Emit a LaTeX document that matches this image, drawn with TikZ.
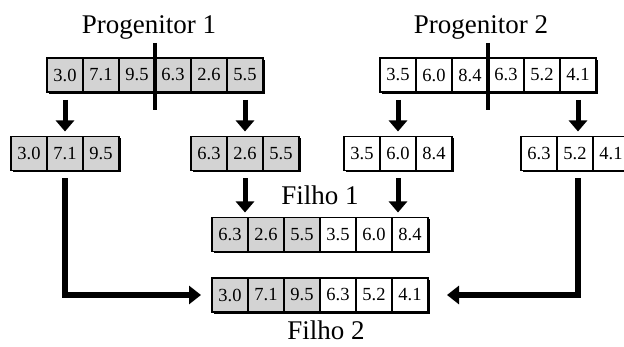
\documentclass[tikz,border=0pt]{standalone}
\usepackage{fontspec}
\setmainfont{Liberation Serif}
\usetikzlibrary{arrows.meta}

\definecolor{genegray}{RGB}{211,211,211}

\tikzset{
  cellbox/.style={draw, line width=1.2pt, minimum width=36pt, minimum height=34pt,
    inner sep=0pt, outer sep=0pt, font=\fontsize{18.5}{20}\selectfont},
  titletext/.style={anchor=base, inner sep=0pt, font=\fontsize{27}{30}\selectfont},
  droparrow/.style={line width=5pt, -{Triangle[width=18pt,length=11pt]}},
  elbowarrow/.style={line width=5.5pt, miter limit=10, -{Triangle[width=18pt,length=12pt]}},
  cutline/.style={line width=3.5pt},
}

% one chromosome: name, number of genes, left x, centre y, list of value/fill
\newcommand{\genome}[5]{%
  \foreach \v/\f [count=\i] in {#5}
    \node[cellbox, fill=\f] (#1\i) at ({#3+36*(\i-0.5)}, #4) {\v};
  \fill ([xshift=2pt]#11.south west) rectangle ([xshift=2pt,yshift=-2pt]#1#2.south east);
  \fill ([yshift=-2pt]#1#2.north east) rectangle ([xshift=2pt,yshift=-2pt]#1#2.south east);
}

\begin{document}
\begin{tikzpicture}[x=1pt, y=-1pt]
  \useasboundingbox (0,0) rectangle (624,347);
  \clip (0,0) rectangle (624,347);

  % parents
  \node[titletext] (t1) at (149,34) {Progenitor 1};
  \node[titletext] (t2) at (481,34) {Progenitor 2};
  \genome{pa}{6}{47}{75}{3.0/genegray,7.1/genegray,9.5/genegray,6.3/genegray,2.6/genegray,5.5/genegray}
  \genome{pb}{6}{380}{75}{3.5/white,6.0/white,8.4/white,6.3/white,5.2/white,4.1/white}

  % crossover points
  \draw[cutline] ([yshift=15pt]pa3.north east) -- ([yshift=-18pt]pa3.south east);
  \draw[cutline] ([yshift=15pt]pb3.north east) -- ([yshift=-18pt]pb3.south east);

  % parent fragments
  \genome{ca}{3}{11}{153.5}{3.0/genegray,7.1/genegray,9.5/genegray}
  \genome{cb}{3}{191}{153.5}{6.3/genegray,2.6/genegray,5.5/genegray}
  \genome{cc}{3}{344}{153.5}{3.5/white,6.0/white,8.4/white}
  \genome{cd}{3}{521}{153.5}{6.3/white,5.2/white,4.1/white}

  \draw[droparrow, shorten <=8pt, shorten >=5pt] (pa1.south) -- (ca2.north);
  \draw[droparrow, shorten <=8pt, shorten >=5pt] (pa6.south) -- (cb2.north);
  \draw[droparrow, shorten <=8pt, shorten >=5pt] (pb1.south) -- (cc2.north);
  \draw[droparrow, shorten <=8pt, shorten >=5pt] (pb6.south) -- (pb6.south |- cd2.north);

  % offspring
  \node[titletext] (t3) at (320,205) {Filho 1};
  \genome{fa}{6}{212}{234.5}{6.3/genegray,2.6/genegray,5.5/genegray,3.5/white,6.0/white,8.4/white}
  \genome{fb}{6}{212}{295}{3.0/genegray,7.1/genegray,9.5/genegray,6.3/white,5.2/white,4.1/white}
  \node[titletext] (t4) at (326,340) {Filho 2};

  \draw[droparrow, shorten <=8pt, shorten >=5pt] (cb2.south) -- (cb2.south |- fa1.north);
  \draw[droparrow, shorten <=8pt, shorten >=5pt] (cc2.south) -- (cc2.south |- fa6.north);

  \draw[elbowarrow, shorten <=8pt, shorten >=11pt] (ca2.south) |- (fb1.west);
  \draw[elbowarrow, shorten <=8pt, shorten >=19pt] (pb6.south |- cd2.south) |- (fb6.east);
\end{tikzpicture}
\end{document}
